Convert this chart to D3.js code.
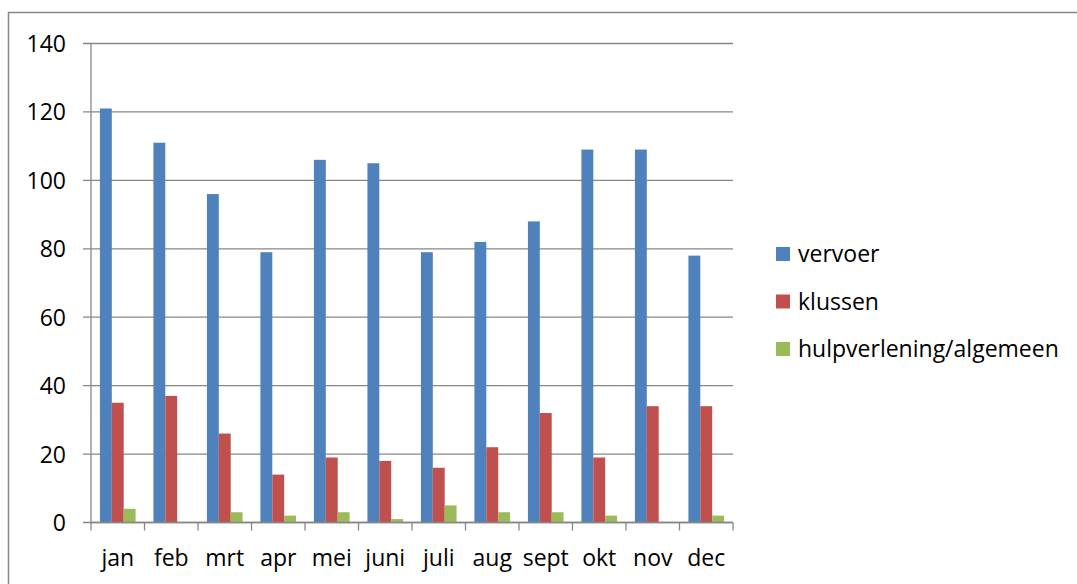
<!DOCTYPE html>
<html>
<head>
<meta charset="utf-8">
<script src="https://cdn.jsdelivr.net/npm/d3@7"></script>
<style>
	body { margin: 0; background: #fff; }
	svg text { font-family: "Open Sans", sans-serif; fill: #000; }
</style>
</head>
<body>
<div id="chart"></div>
<script>
// chart data
var months = ["jan", "feb", "mrt", "apr", "mei", "juni", "juli", "aug", "sept", "okt", "nov", "dec"];
var seriesNames = ["vervoer", "klussen", "hulpverlening/algemeen"];
var vervoer = [121, 111, 96, 79, 106, 105, 79, 82, 88, 109, 109, 78];
var klussen = [35, 37, 26, 14, 19, 18, 16, 22, 32, 19, 34, 34];
var hulpverlening = [4, 0, 3, 2, 3, 1, 5, 3, 3, 2, 0, 2];
var yTicks = [0, 20, 40, 60, 80, 100, 120, 140];
var colors = ["#4f81bd", "#c0504d", "#9bbb59"];

var seriesValues = [vervoer, klussen, hulpverlening];

var width = 1077, height = 584;
var plot = {left: 91, right: 733, top: 43.5, bottom: 522.5};
var fontSize = "23px";

var svg = d3.select("#chart").append("svg")
	.attr("width", width)
	.attr("height", height);

// outer chart border (right/bottom edges fall outside the picture)
svg.append("rect")
	.attr("x", 8.5).attr("y", 12.5)
	.attr("width", 1100).attr("height", 620)
	.attr("fill", "none")
	.attr("stroke", "#878787")
	.attr("stroke-width", 1.5);

var x = d3.scaleBand()
	.domain(months)
	.range([plot.left, plot.right]);

// gap width 150% -> three bars plus 1.5 bar of gap
var barW = x.bandwidth() / 4.5;
var xInner = d3.scaleBand()
	.domain(seriesNames)
	.range([barW * 0.75, barW * 3.75]);

var y = d3.scaleLinear()
	.domain([0, 140])
	.range([plot.bottom, plot.top]);

// gridlines
svg.append("g")
	.selectAll("line")
	.data(yTicks)
	.enter()
	.append("line")
	.attr("x1", plot.left - 8)
	.attr("x2", plot.right)
	.attr("y1", function(d) { return y(d); })
	.attr("y2", function(d) { return y(d); })
	.attr("stroke", "#878787")
	.attr("stroke-width", 1.3);

// bars
var groups = svg.append("g")
	.selectAll("g")
	.data(months)
	.enter()
	.append("g")
	.attr("transform", function(d) { return "translate(" + x(d) + ",0)"; });

groups.selectAll("rect")
	.data(function(m, i) {
		return seriesNames.map(function(s, j) { return {name: s, value: seriesValues[j][i], idx: j}; });
	})
	.enter()
	.append("rect")
	.attr("x", function(d) { return xInner(d.name); })
	.attr("width", xInner.bandwidth())
	.attr("y", function(d) { return y(d.value); })
	.attr("height", function(d) { return y(0) - y(d.value); })
	.attr("fill", function(d) { return colors[d.idx]; });

// y axis line
svg.append("line")
	.attr("x1", plot.left).attr("x2", plot.left)
	.attr("y1", plot.top).attr("y2", plot.bottom)
	.attr("stroke", "#878787")
	.attr("stroke-width", 1.3);

// x axis with tick marks between categories
var xAxis = d3.axisBottom(x).tickSize(0).tickPadding(0);
var xg = svg.append("g")
	.attr("transform", "translate(0," + plot.bottom + ")")
	.call(xAxis);
xg.select(".domain").remove();
xg.selectAll("text")
	.attr("y", 43)
	.attr("dy", 0)
	.style("font-size", fontSize);

svg.append("line")
	.attr("x1", plot.left).attr("x2", plot.right)
	.attr("y1", plot.bottom).attr("y2", plot.bottom)
	.attr("stroke", "#878787")
	.attr("stroke-width", 1.3);

svg.append("g")
	.selectAll("line")
	.data(months.concat(["end"]))
	.enter()
	.append("line")
	.attr("x1", function(d) { return d == "end" ? plot.right : x(d); })
	.attr("x2", function(d) { return d == "end" ? plot.right : x(d); })
	.attr("y1", plot.bottom)
	.attr("y2", plot.bottom + 8)
	.attr("stroke", "#878787")
	.attr("stroke-width", 1.3);

// y labels
var yAxis = d3.axisLeft(y).tickValues(yTicks).tickSize(0).tickPadding(0);
var yg = svg.append("g")
	.attr("transform", "translate(66,0)")
	.call(yAxis);
yg.select(".domain").remove();
yg.selectAll("text")
	.attr("dy", "0.35em")
	.attr("x", 0)
	.style("font-size", fontSize);

// legend
var legend = svg.append("g")
	.selectAll("g")
	.data(seriesNames)
	.enter()
	.append("g")
	.attr("transform", function(d, i) { return "translate(776," + (254 + i * 47.5) + ")"; });

legend.append("rect")
	.attr("x", 0).attr("y", -7)
	.attr("width", 14).attr("height", 14)
	.attr("fill", function(d, i) { return colors[i]; });

legend.append("text")
	.attr("x", 22)
	.attr("dy", "0.35em")
	.style("font-size", fontSize)
	.text(function(d) { return d; });
</script>
</body>
</html>
